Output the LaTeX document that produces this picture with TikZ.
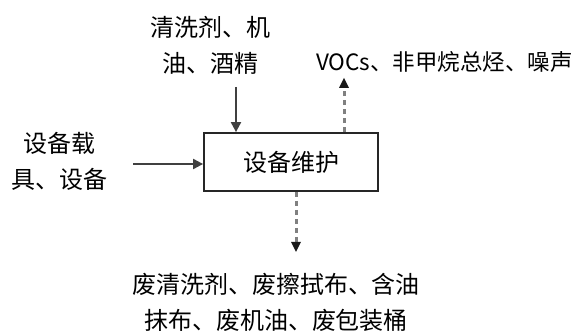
\documentclass[tikz,border=0pt]{standalone}
\usepackage{fontspec}
\setmainfont{Noto Sans CJK SC}
\usetikzlibrary{arrows.meta}
\begin{document}
\begin{tikzpicture}[x=1pt,y=1pt,
  txt/.style={align=center,inner sep=0pt,font=\fontsize{24}{36}\selectfont},
  solidarrow/.style={draw=black!75,line width=2pt,-{Triangle[length=10pt,width=10pt]}},
  dasharrow/.style={draw=black!50,line width=3pt,dash pattern=on 5pt off 4pt,-{Triangle[length=10pt,width=10pt,color=black!90,line width=0pt]}},
  boxstyle/.style={draw=black!85,line width=1.8pt,minimum width=174pt,minimum height=58pt,inner sep=0pt,font=\fontsize{24}{28}\selectfont}]
\useasboundingbox (0,0) rectangle (587,331);
\node[boxstyle] (box) at (291,169) {设备维护};
\node[txt] (top) at (210,286) {清洗剂、机\\油、酒精};
\node[txt] (left) at (60,169.5) {设备载\\具、设备};
\node[txt,anchor=west,font=\fontsize{22.5}{30}\selectfont] (voc) at (316,269) {VOCs、非甲烷总烃、噪声};
\node[txt] (bot) at (276,28.5) {废清洗剂、废擦拭布、含油\\抹布、废机油、废包装桶};
\coordinate (ta) at (236,244);
\coordinate (la) at (133,167);
\coordinate (ua) at (344,253);
\coordinate (da) at (296,79);
\draw[solidarrow] (ta) -- (ta |- box.north);
\draw[solidarrow] (la) -- (la -| box.west);
\draw[dasharrow] (ua |- box.north) -- (ua);
\draw[dasharrow] (da |- box.south) -- (da);
\end{tikzpicture}
\end{document}
